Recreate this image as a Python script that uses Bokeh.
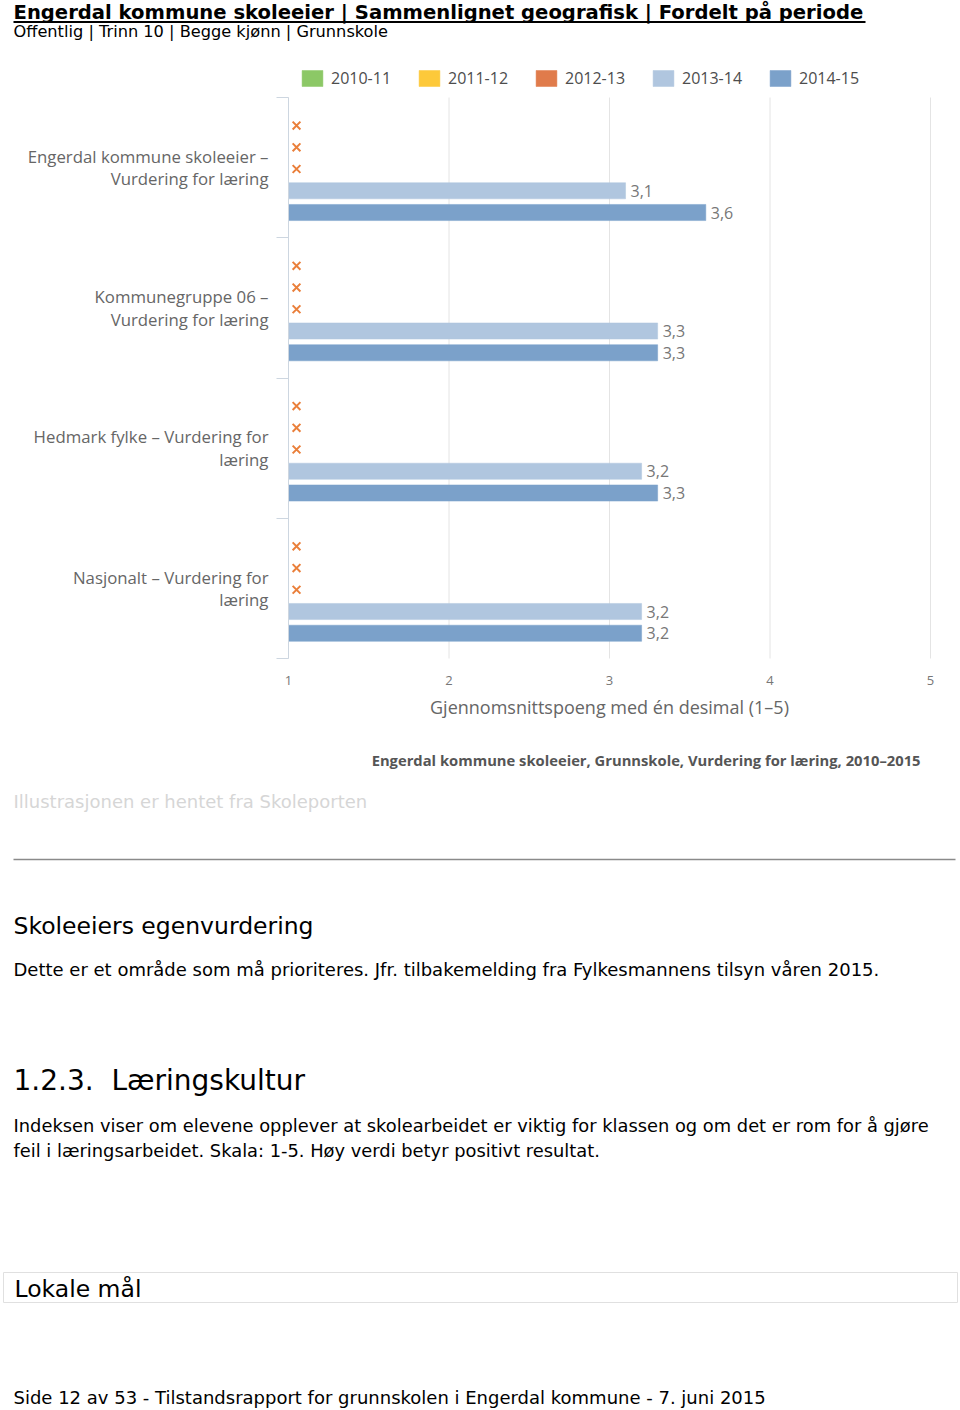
import math
from bokeh.plotting import figure
from bokeh.models import (Range1d, FixedTicker, Legend, LegendItem, ColumnDataSource)
from bokeh.core.properties import value
from bokeh.embed import file_html
from bokeh.resources import INLINE

# ---------------- data ----------------
groups = [
    "Engerdal kommune skoleeier –\nVurdering for læring",
    "Kommunegruppe 06 –\nVurdering for læring",
    "Hedmark fylke – Vurdering for\nlæring",
    "Nasjonalt – Vurdering for\nlæring",
]
periods = ["2010-11", "2011-12", "2012-13", "2013-14", "2014-15"]
v_2010_11 = [None, None, None, None]
v_2011_12 = [None, None, None, None]
v_2012_13 = [None, None, None, None]
v_2013_14 = [3.1, 3.3, 3.2, 3.2]
v_2014_15 = [3.6, 3.3, 3.3, 3.2]
series = [v_2010_11, v_2011_12, v_2012_13, v_2013_14, v_2014_15]
x_ticks = [1, 2, 3, 4, 5]

# ---------------- styles / layout ----------------
colors = ["#8cc866", "#fdc93a", "#e07b4b", "#b0c6df", "#7ba1ca"]
slot_offsets = [0.30, 0.145, -0.01, -0.165, -0.32]
CH = "Open Sans"
BODY = "DejaVu Sans"
W, H = 960, 1410
PL, PR, PT, PB = 288, 930, 97, 658     # bar area in page pixels
n = len(groups)
xu = (PR - PL) / (x_ticks[-1] - x_ticks[0])
yu = (PB - PT) / n
x_start = x_ticks[0] - PL / xu
x_end = x_ticks[-1] + (W - PR) / xu
y_start = -(H - PB) / yu
y_end = n + PT / yu

p = figure(width=W, height=H, x_range=Range1d(x_start, x_end), y_range=Range1d(y_start, y_end),
           output_backend="svg", toolbar_location=None, min_border=0)
p.outline_line_color = None
p.extra_x_ranges = {"px": Range1d(0, W)}
p.extra_y_ranges = {"py": Range1d(H, 0)}

centers = [n - i - 0.5 for i in range(n)]

# vertical grid lines inside the bar area
p.segment(x0=x_ticks, x1=x_ticks, y0=[0] * len(x_ticks), y1=[n] * len(x_ticks),
          line_color="#e4e4e4", line_width=1)

items = []
for k, (per, vals) in enumerate(zip(periods, series)):
    ys = [c + slot_offsets[k] for c in centers]
    pres = [(y, v) for y, v in zip(ys, vals) if v is not None]
    miss = [y for y, v in zip(ys, vals) if v is None]
    if pres:
        src = ColumnDataSource(dict(y=[a for a, _ in pres], right=[b for _, b in pres],
                                    lab=[f"{b:.1f}".replace(".", ",") for _, b in pres]))
    else:
        src = ColumnDataSource(dict(y=[math.nan], right=[math.nan], lab=[""]))
    r = p.hbar(y="y", right="right", left=x_ticks[0], height=0.115, source=src,
               fill_color=colors[k], line_color=colors[k], line_width=0.5)
    items.append(LegendItem(label=per, renderers=[r]))
    if pres:
        p.text(x="right", y="y", text="lab", source=src, x_offset=5, text_baseline="middle",
               text_font=value(CH), text_font_size="16px", text_color="#777777")
    if miss:
        p.scatter(x=[x_ticks[0] + 0.05] * len(miss), y=miss, marker="x", size=11,
                  line_color="#ea7f3a", line_width=2)

leg = Legend(items=items, orientation="horizontal", location=(299, H - 89),
             glyph_width=26, glyph_height=20, label_standoff=6, label_width=85, spacing=0,
             padding=0, margin=0, border_line_color=None, background_fill_alpha=0,
             label_text_font=CH, label_text_font_size="16px", label_text_color="#4d4d4d")
p.add_layout(leg)

xa = p.xaxis[0]
xa.fixed_location = 0
xa.bounds = (x_ticks[0], x_ticks[-1])
xa.ticker = FixedTicker(ticks=x_ticks)
xa.axis_line_color = None
xa.major_tick_line_color = None
xa.minor_tick_line_color = None
xa.major_label_standoff = 11
xa.major_label_text_font = CH
xa.major_label_text_font_size = "13px"
xa.major_label_text_color = "#777777"
xa.axis_label = "Gjennomsnittspoeng med én desimal (1–5)"
xa.axis_label_text_font = CH
xa.axis_label_text_font_size = "18px"
xa.axis_label_text_font_style = "normal"
xa.axis_label_text_color = "#666666"
xa.axis_label_standoff = 7

ya = p.yaxis[0]
ya.fixed_location = x_ticks[0]
ya.ticker = FixedTicker(ticks=centers, minor_ticks=list(range(n + 1)))
ya.major_label_overrides = {c: g for c, g in zip(centers, groups)}
ya.bounds = (0, n)
ya.axis_line_color = "#cdd6e0"
ya.major_tick_line_color = None
ya.minor_tick_line_color = "#cdd6e0"
ya.minor_tick_out = 12
ya.minor_tick_in = 0
ya.major_label_standoff = 8
ya.major_label_text_font = CH
ya.major_label_text_font_size = "16.8px"
ya.major_label_text_color = "#666666"
ya.major_label_text_line_height = 0.98

p.xgrid.grid_line_color = None
p.ygrid.grid_line_color = None

# ---------------- page texts (page-pixel coordinates) ----------------
def txt(x, y, text, size, font=BODY, color="#000000", style="normal", align="left",
        baseline="middle"):
    p.text(x=[x], y=[y], text=[text], x_range_name="px", y_range_name="py",
           text_font=value(font), text_font_size=size, text_color=color,
           text_font_style=style, text_align=align, text_baseline=baseline)

txt(13, 12, "Engerdal kommune skoleeier | Sammenlignet geografisk | Fordelt på periode",
    "19.6px", style="bold")
p.segment(x0=[13], y0=[21.5], x1=[865], y1=[21.5], x_range_name="px", y_range_name="py",
          line_color="#000000", line_width=2)
txt(13, 31, "Offentlig | Trinn 10 | Begge kjønn | Grunnskole", "16.2px")

txt(920, 759, "Engerdal kommune skoleeier, Grunnskole, Vurdering for læring, 2010–2015",
    "14.75px", font=CH, color="#555555", style="bold", align="right")
txt(13, 801, "Illustrasjonen er hentet fra Skoleporten", "18px", color="#d6d6d6")
p.segment(x0=[13], y0=[859], x1=[955], y1=[859], x_range_name="px", y_range_name="py",
          line_color="#8a8a8a", line_width=1.5)
txt(13, 925, "Skoleeiers egenvurdering", "23.5px")
txt(13, 969, "Dette er et område som må prioriteres. Jfr. tilbakemelding fra Fylkesmannens tilsyn våren 2015.",
    "18px")
txt(13, 1080, "1.2.3.\u00a0 Læringskultur", "28px")
txt(13, 1125, "Indeksen viser om elevene opplever at skolearbeidet er viktig for klassen og om det er rom for å gjøre",
    "17.85px")
txt(13, 1150, "feil i læringsarbeidet. Skala: 1-5. Høy verdi betyr positivt resultat.", "17.85px")
p.quad(left=[3], right=[957], top=[1272], bottom=[1302], x_range_name="px", y_range_name="py",
       fill_color=None, line_color="#e0e0e0", line_width=1)
txt(14, 1288, "Lokale mål", "23.5px")
txt(13, 1397, "Side 12 av 53 - Tilstandsrapport for grunnskolen i Engerdal kommune - 7. juni 2015", "18px")

open("out.html", "w").write(file_html(p, INLINE))
